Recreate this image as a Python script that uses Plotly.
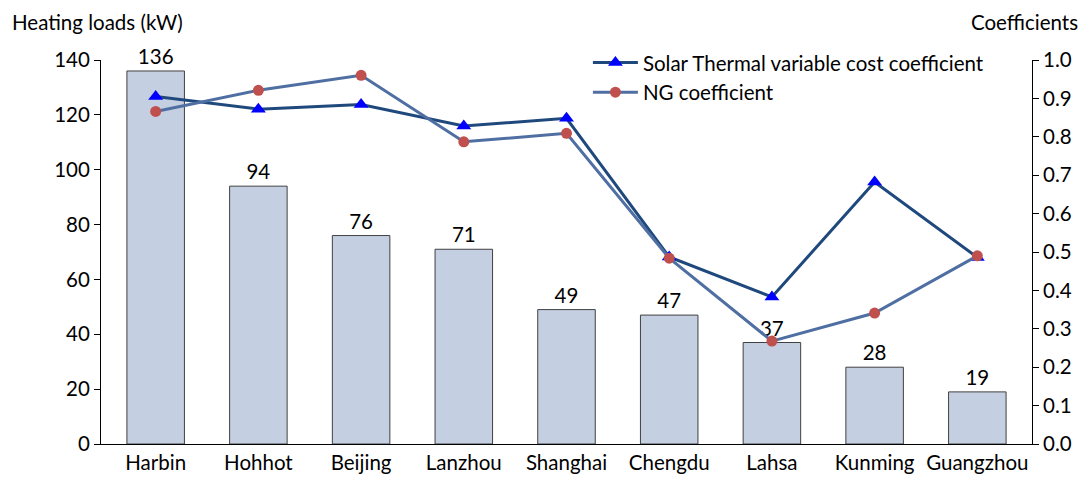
import plotly.graph_objects as go

cities = ["Harbin", "Hohhot", "Beijing", "Lanzhou", "Shanghai", "Chengdu", "Lahsa", "Kunming", "Guangzhou"]
heating_loads = [136, 94, 76, 71, 49, 47, 37, 28, 19]
solar_coef = [0.905, 0.872, 0.884, 0.828, 0.848, 0.487, 0.383, 0.682, 0.486]
ng_coef = [0.866, 0.921, 0.960, 0.787, 0.809, 0.484, 0.268, 0.341, 0.490]
left_ticks = [0, 20, 40, 60, 80, 100, 120, 140]
right_ticks = [0.0, 0.1, 0.2, 0.3, 0.4, 0.5, 0.6, 0.7, 0.8, 0.9, 1.0]

FONT = "Lato"
FS = 20.5
PW = 931  # plot width in px

fig = go.Figure()
fig.add_trace(go.Bar(
    x=cities, y=heating_loads, text=[str(v) for v in heating_loads],
    textposition="outside", textfont=dict(size=FS, color="#000000", family=FONT),
    marker=dict(color="#C4CFE1", line=dict(color="#404040", width=1)),
    showlegend=False, cliponaxis=False,
))
fig.add_trace(go.Scatter(
    x=cities, y=solar_coef, yaxis="y2", mode="lines+markers",
    name="Solar Thermal variable cost coefficient",
    line=dict(color="#1F497D", width=3),
    marker=dict(symbol="triangle-up", color="#0000FF", size=13),
    cliponaxis=False,
))
fig.add_trace(go.Scatter(
    x=cities, y=ng_coef, yaxis="y2", mode="lines+markers",
    name="NG coefficient",
    line=dict(color="#4F6FA3", width=3),
    marker=dict(symbol="circle", color="#C0504D", size=11),
    cliponaxis=False,
))

fig.update_layout(
    width=1080, height=479,
    margin=dict(l=93, r=56, t=52, b=43),
    plot_bgcolor="white", paper_bgcolor="white",
    font=dict(family=FONT, size=FS, color="#000000"),
    bargap=0.44,
    xaxis=dict(showgrid=False, showline=True, linecolor="#000000", linewidth=1,
               ticks="", tickfont=dict(size=FS)),
    yaxis=dict(range=[0, 140], tickvals=left_ticks, showgrid=False, showline=True,
               linecolor="#000000", linewidth=1, ticks="outside", ticklen=6,
               tickcolor="#000000", zeroline=False, tickfont=dict(size=FS)),
    yaxis2=dict(range=[0, 1], tickvals=right_ticks, tickformat=".1f", overlaying="y",
                side="right", showgrid=False, showline=True, linecolor="#000000",
                linewidth=1, ticks="outside", ticklen=6, tickcolor="#000000",
                zeroline=False, tickfont=dict(size=FS)),
    legend=dict(x=0.523, y=1.045, xanchor="left", yanchor="top", itemwidth=45,
                bgcolor="rgba(0,0,0,0)", font=dict(size=FS), tracegroupgap=0),
    annotations=[
        dict(text="Heating loads (kW)", xref="paper", yref="paper", x=-91/PW, y=1,
             yshift=38, xanchor="left", yanchor="middle", showarrow=False,
             font=dict(size=FS)),
        dict(text="Coefficients", xref="paper", yref="paper", x=1 + 48/PW, y=1,
             yshift=38, xanchor="right", yanchor="middle", showarrow=False,
             font=dict(size=FS)),
    ],
)

fig.write_html("out.html")
